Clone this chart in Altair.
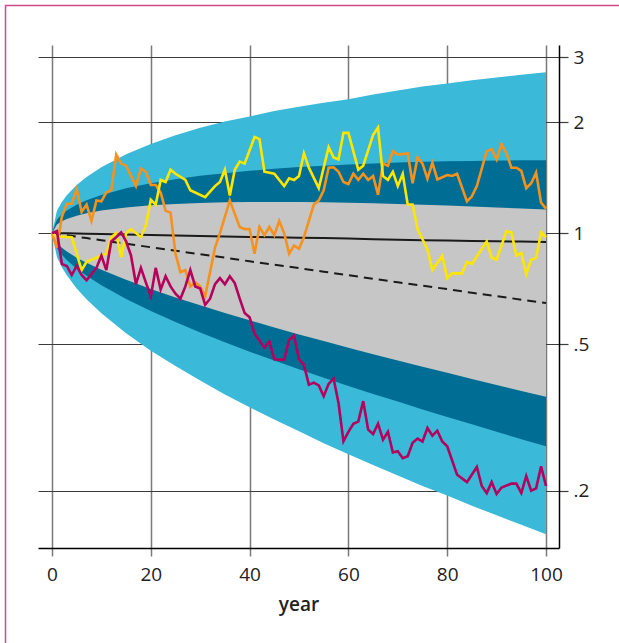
import altair as alt
import pandas as pd

# ---------------- data ----------------
band_years = [0, 1, 2, 3, 5, 7, 10, 15, 20, 25, 30, 35, 40, 45, 50, 55, 60, 65, 70, 75, 80, 85, 90, 95, 100]
outer_hi = [1.0, 1.150, 1.216, 1.267, 1.351, 1.421, 1.511, 1.638, 1.747, 1.845, 1.934, 2.010, 2.075, 2.145, 2.205, 2.260, 2.310, 2.380, 2.440, 2.500, 2.550, 2.600, 2.645, 2.690, 2.735]
outer_lo = [1.0, 0.862, 0.808, 0.769, 0.708, 0.662, 0.606, 0.535, 0.480, 0.436, 0.398, 0.365, 0.337, 0.312, 0.290, 0.269, 0.251, 0.235, 0.220, 0.206, 0.194, 0.182, 0.1715, 0.1616, 0.1524]
mid_hi = [1.0, 1.089, 1.125, 1.152, 1.195, 1.228, 1.270, 1.324, 1.366, 1.401, 1.431, 1.455, 1.477, 1.496, 1.512, 1.525, 1.536, 1.547, 1.555, 1.562, 1.567, 1.571, 1.574, 1.577, 1.578]
mid_lo = [1.0, 0.911, 0.874, 0.846, 0.801, 0.766, 0.722, 0.663, 0.615, 0.574, 0.538, 0.506, 0.477, 0.451, 0.427, 0.405, 0.385, 0.366, 0.349, 0.332, 0.317, 0.303, 0.289, 0.276, 0.264]
inner_hi = [1.0, 1.056, 1.077, 1.092, 1.115, 1.132, 1.152, 1.175, 1.190, 1.201, 1.208, 1.213, 1.215, 1.216, 1.215, 1.213, 1.210, 1.206, 1.201, 1.195, 1.189, 1.182, 1.175, 1.167, 1.159]
inner_lo = [1.0, 0.939, 0.913, 0.892, 0.858, 0.831, 0.796, 0.747, 0.705, 0.669, 0.637, 0.607, 0.580, 0.555, 0.531, 0.510, 0.489, 0.469, 0.451, 0.434, 0.418, 0.402, 0.387, 0.373, 0.360]
median_line = [1.0, 0.996, 0.991, 0.987, 0.978, 0.970, 0.957, 0.936, 0.916, 0.896, 0.877, 0.858, 0.839, 0.821, 0.804, 0.786, 0.769, 0.752, 0.736, 0.720, 0.705, 0.689, 0.675, 0.660, 0.646]
mean_line = [1.0, 1.0, 0.999, 0.999, 0.998, 0.997, 0.995, 0.992, 0.989, 0.986, 0.983, 0.980, 0.977, 0.975, 0.972, 0.970, 0.967, 0.963, 0.960, 0.957, 0.955, 0.953, 0.951, 0.949, 0.947]

yellow_years = [0, 1, 4, 6, 7, 9, 11, 12, 13, 14, 15, 16, 18, 19, 20, 21, 22, 23, 24, 25, 27, 28, 31, 33, 34, 35, 36, 37, 38, 39, 41, 42, 43, 45, 47, 48, 49, 50, 51, 52, 54, 56, 57, 58, 59, 60, 62, 63, 65, 66, 67, 68, 69, 70, 71, 72, 73, 74, 76, 77, 79, 80, 81, 83, 84, 85, 88, 89, 90, 92, 93, 94, 95, 96, 97, 98, 99, 100]
yellow_vals = [1.0, 0.98, 0.975, 0.794, 0.836, 0.858, 0.88, 0.975, 1.0, 0.86, 1.0, 1.026, 0.975, 1.05, 1.233, 1.196, 1.395, 1.377, 1.487, 1.45, 1.395, 1.308, 1.253, 1.342, 1.377, 1.487, 1.265, 1.487, 1.565, 1.545, 1.825, 1.80, 1.468, 1.45, 1.342, 1.41, 1.395, 1.43, 1.647, 1.506, 1.325, 1.712, 1.606, 1.585, 1.872, 1.872, 1.487, 1.525, 1.848, 1.935, 1.43, 1.395, 1.468, 1.342, 1.45, 1.196, 1.196, 1.026, 0.903, 0.794, 0.869, 0.755, 0.778, 0.778, 0.836, 0.825, 0.95, 0.858, 0.847, 1.013, 1.005, 0.869, 0.884, 0.774, 0.847, 0.858, 1.005, 0.975]

orange_years = [0, 1, 2, 3, 4, 5, 6, 7, 8, 9, 10, 11, 12, 13, 14, 15, 17, 18, 19, 20, 21, 22, 23, 24, 25, 26, 27, 28, 29, 30, 31, 33, 34, 36, 38, 39, 40, 41, 42, 43, 44, 45, 46, 47, 48, 49, 50, 51, 53, 54, 55, 56, 57, 58, 59, 60, 61, 62, 63, 64, 65, 66, 67, 68, 69, 70, 72, 73, 74, 75, 76, 77, 78, 80, 81, 82, 84, 85, 86, 88, 89, 90, 91, 92, 93, 94, 95, 96, 97, 98, 99, 100]
orange_vals = [1.0, 0.914, 1.108, 1.202, 1.202, 1.318, 1.142, 1.196, 1.08, 1.227, 1.221, 1.29, 1.308, 1.635, 1.545, 1.525, 1.342, 1.498, 1.468, 1.352, 1.352, 1.29, 1.151, 1.137, 0.88, 0.784, 0.794, 0.717, 0.735, 0.717, 0.673, 0.914, 1.0, 1.227, 1.04, 1.026, 1.026, 0.88, 1.04, 0.987, 1.04, 0.987, 1.08, 1.0, 0.88, 0.926, 0.907, 0.975, 1.196, 1.227, 1.308, 1.505, 1.51, 1.468, 1.377, 1.36, 1.45, 1.395, 1.45, 1.395, 1.43, 1.272, 1.545, 1.525, 1.67, 1.635, 1.647, 1.366, 1.606, 1.545, 1.405, 1.553, 1.40, 1.438, 1.43, 1.45, 1.22, 1.259, 1.342, 1.67, 1.69, 1.585, 1.746, 1.647, 1.506, 1.506, 1.476, 1.325, 1.366, 1.46, 1.21, 1.166]

magenta_years = [0, 1, 2, 3, 4, 5, 6, 7, 9, 10, 11, 12, 13, 14, 15, 16, 17, 18, 19, 20, 21, 22, 23, 24, 25, 26, 27, 28, 29, 30, 31, 32, 33, 34, 35, 36, 37, 38, 39, 40, 41, 43, 44, 45, 47, 48, 49, 50, 51, 52, 53, 54, 55, 56, 57, 58, 59, 60, 61, 62, 63, 64, 65, 66, 67, 68, 69, 70, 71, 72, 73, 74, 75, 76, 77, 78, 79, 80, 82, 84, 86, 87, 88, 89, 90, 91, 93, 94, 95, 96, 97, 98, 99, 100]
magenta_vals = [1.0, 1.013, 0.825, 0.815, 0.77, 0.815, 0.77, 0.745, 0.805, 0.869, 0.794, 0.95, 0.975, 1.005, 0.95, 0.869, 0.727, 0.805, 0.735, 0.673, 0.805, 0.703, 0.764, 0.717, 0.685, 0.664, 0.717, 0.794, 0.717, 0.708, 0.639, 0.664, 0.727, 0.755, 0.727, 0.764, 0.732, 0.664, 0.607, 0.591, 0.534, 0.489, 0.508, 0.455, 0.453, 0.514, 0.527, 0.455, 0.439, 0.388, 0.393, 0.386, 0.361, 0.39, 0.403, 0.346, 0.2724, 0.289, 0.304, 0.308, 0.35, 0.293, 0.285, 0.304, 0.275, 0.289, 0.254, 0.256, 0.245, 0.248, 0.27, 0.277, 0.272, 0.296, 0.282, 0.291, 0.272, 0.264, 0.221, 0.211, 0.232, 0.206, 0.197, 0.211, 0.196, 0.204, 0.209, 0.209, 0.197, 0.219, 0.2, 0.203, 0.233, 0.206]

x_ticks = [0, 20, 40, 60, 80, 100]
y_ticks = [0.2, 0.5, 1, 2, 3]

# ---------------- styling ----------------
FONT = "Open Sans"
LIGHT_BLUE = "#3AB9D8"
TEAL = "#006E94"
GREY = "#C6C6C6"
YELLOW = "#FFE600"
ORANGE = "#F5921E"
MAGENTA = "#B5005D"
FRAME = "#CC4B8C"
TEXT = "#222222"

W, H = 521, 503
x_scale = alt.Scale(domain=[-2.83, 102.63], nice=False, zero=False)
y_scale = alt.Scale(type="log", domain=[0.1398, 3.242], nice=False)

x_axis = alt.Axis(
    values=x_ticks, orient="bottom", grid=True, gridColor="#7a7a7a", gridWidth=1.5,
    domainColor="#000000", domainWidth=1.5, tickColor="#7a7a7a", tickWidth=1.5, tickSize=8,
    labelFont=FONT, labelFontSize=19, labelColor=TEXT, labelPadding=9,
    title="year", titleFont=FONT, titleFontSize=19, titleFontWeight=600, titleColor=TEXT,
    titlePadding=11,
)
y_axis = alt.Axis(
    values=y_ticks, orient="right", grid=True, gridColor="#3c3c3c", gridWidth=1.2,
    domainColor="#000000", domainWidth=1.5, tickColor="#3c3c3c", tickWidth=1.2, tickSize=9,
    labelFont=FONT, labelFontSize=19, labelColor=TEXT, labelPadding=5,
    labelExpr="datum.value < 1 ? substring(toString(datum.value), 1) : toString(datum.value)",
    title=None,
)


def X(field="year"):
    return alt.X(f"{field}:Q", scale=x_scale, axis=x_axis)


def Y(field):
    return alt.Y(f"{field}:Q", scale=y_scale, axis=y_axis)


bands = pd.DataFrame({
    "year": band_years,
    "outer_hi": outer_hi, "outer_lo": outer_lo,
    "mid_hi": mid_hi, "mid_lo": mid_lo,
    "inner_hi": inner_hi, "inner_lo": inner_lo,
    "median": median_line, "mean": mean_line,
})

base = alt.Chart(bands)
outer = base.mark_area(color=LIGHT_BLUE, opacity=1).encode(x=X(), y=Y("outer_lo"), y2="outer_hi:Q")
mid = base.mark_area(color=TEAL, opacity=1).encode(x=X(), y=Y("mid_lo"), y2="mid_hi:Q")
inner = base.mark_area(color=GREY, opacity=1).encode(x=X(), y=Y("inner_lo"), y2="inner_hi:Q")
dashed = base.mark_line(color="#1a1a1a", strokeWidth=2, strokeDash=[9, 6]).encode(x=X(), y=Y("median"))
solid = base.mark_line(color="#1a1a1a", strokeWidth=2).encode(x=X(), y=Y("mean"))


def path(years, vals, color):
    df = pd.DataFrame({"year": years, "v": vals})
    return alt.Chart(df).mark_line(color=color, strokeWidth=2.6).encode(x=X(), y=Y("v"))


orange = path(orange_years, orange_vals, ORANGE)
yellow = path(yellow_years, yellow_vals, YELLOW)
magenta = path(magenta_years, magenta_vals, MAGENTA)

frame = alt.Chart(pd.DataFrame({"k": [0]})).mark_rect(
    fillOpacity=0, stroke=FRAME, strokeWidth=1.5, clip=False
).encode(x=alt.value(-32.5), x2=alt.value(700), y=alt.value(-39.5), y2=alt.value(700))

chart = alt.layer(frame, outer, mid, inner, dashed, solid, orange, yellow, magenta).properties(
    width=W, height=H,
    autosize=alt.AutoSizeParams(type="none"),
    padding={"left": 38, "top": 45, "right": 60, "bottom": 95},
    background="white",
).configure_view(strokeWidth=0)

chart.save("out.html", embed_options={"renderer": "svg", "actions": False})
